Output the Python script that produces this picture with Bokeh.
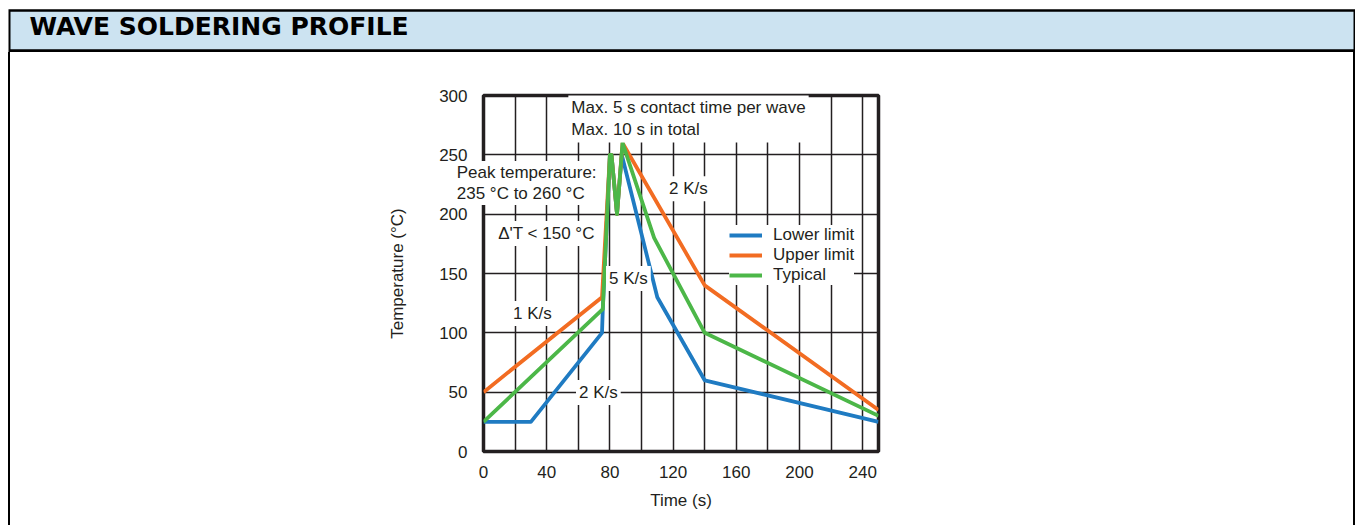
from bokeh.plotting import figure
from bokeh.models import Label, FixedTicker, Range1d, Spacer
from bokeh.layouts import column, row
from bokeh.embed import file_html
from bokeh.resources import INLINE
from bokeh.core.properties import value

# ---------------- data ----------------
series_names = ["Lower limit", "Upper limit", "Typical"]

time_lower = [0, 30, 75, 75.5, 80, 81, 84.5, 87.5, 110, 140, 250]
temp_lower = [25, 25, 100, 120, 250, 250, 200, 250, 130, 60, 25]

time_upper = [0, 75, 80, 81, 84.5, 88, 140, 250]
temp_upper = [50, 130, 250, 250, 200, 260, 140, 35]

time_typical = [0, 75.5, 80, 81, 84.5, 88, 108, 140, 250]
temp_typical = [25, 120, 250, 250, 200, 260, 180, 100, 30]

x_tick_values = [0, 40, 80, 120, 160, 200, 240]
x_grid_values = [20, 40, 60, 80, 100, 120, 140, 160, 180, 200, 220, 240]
y_tick_values = [0, 50, 100, 150, 200, 250, 300]
y_grid_values = [50, 100, 150, 200, 250]

title_text = "WAVE SOLDERING PROFILE"
x_label = "Time (s)"
y_label = "Temperature (°C)"

# ---------------- style ----------------
FONT = "Liberation Sans"
INK = "#231f20"
COLORS = ["#1f7bc2", "#f26c22", "#4cb748"]
HEADER_BG = "#cce3f1"
PAGE_W, PAGE_H = 1355, 525
HEAD_H = 52
MARGIN_W, EDGE_W = 8, 2
BODY_H = PAGE_H - HEAD_H
CHART_W = PAGE_W - MARGIN_W - 2 * EDGE_W

# ---------- header band ----------
head = figure(width=PAGE_W, height=HEAD_H, x_range=Range1d(0, PAGE_W),
              y_range=Range1d(HEAD_H, 0), output_backend="svg",
              toolbar_location=None, x_axis_location=None, y_axis_location=None,
              min_border=0, min_border_left=0, min_border_right=0,
              min_border_top=0, min_border_bottom=0)
head.grid.visible = False
head.outline_line_color = None
head.background_fill_color = "white"
head.border_fill_color = "white"
head.quad(left=[MARGIN_W], right=[PAGE_W], top=[8.7], bottom=[51.7],
          fill_color="black", line_color=None)
head.quad(left=[MARGIN_W + EDGE_W], right=[PAGE_W - EDGE_W], top=[11.2], bottom=[48.8],
          fill_color=HEADER_BG, line_color=None)
head.text(x=[29], y=[25.5], text=[title_text], text_align="left",
          text_baseline="middle", text_font=value("DejaVu Sans"),
          text_font_style="bold", text_font_size="25px", text_color="black")

# ---------- chart ----------
p = figure(width=CHART_W, height=BODY_H, x_range=Range1d(0, 250), y_range=Range1d(0, 300),
           output_backend="svg", toolbar_location=None,
           min_border_left=473, min_border_right=475,
           min_border_top=43, min_border_bottom=74,
           x_axis_label=x_label, y_axis_label=y_label)

p.background_fill_color = "white"
p.border_fill_color = "white"
p.outline_line_color = INK
p.outline_line_width = 3.5
p.outline_line_alpha = 1.0

p.xgrid.ticker = FixedTicker(ticks=x_grid_values)
p.ygrid.ticker = FixedTicker(ticks=y_grid_values)
p.grid.grid_line_color = INK
p.grid.grid_line_width = 1.5
p.grid.grid_line_alpha = 1.0

p.xaxis.ticker = FixedTicker(ticks=x_tick_values)
p.yaxis.ticker = FixedTicker(ticks=y_tick_values)
for ax in (p.xaxis, p.yaxis):
    ax.axis_line_color = None
    ax.major_tick_line_color = None
    ax.minor_tick_line_color = None
    ax.major_tick_out = 0
    ax.major_tick_in = 0
    ax.major_label_text_font = FONT
    ax.major_label_text_font_size = "17px"
    ax.major_label_text_color = INK
    ax.axis_label_text_font = FONT
    ax.axis_label_text_font_size = "17px"
    ax.axis_label_text_font_style = "normal"
    ax.axis_label_text_color = INK
p.yaxis.major_label_standoff = 16
p.xaxis.major_label_standoff = 14
p.yaxis.axis_label_standoff = 29
p.xaxis.axis_label_standoff = 10

series = [(time_lower, temp_lower), (time_upper, temp_upper), (time_typical, temp_typical)]
for (xs, ys), name, col in zip(series, series_names, COLORS):
    p.line(xs, ys, line_color=col, line_width=3.8, line_join="round",
           legend_label=name)

lg = p.legend[0]
lg.location = (246, 166)
lg.margin = 0
lg.padding = 8
lg.spacing = 0
lg.glyph_width = 33
lg.glyph_height = 20
lg.label_height = 20
lg.label_standoff = 11
lg.border_line_color = None
lg.background_fill_color = "white"
lg.background_fill_alpha = 1.0
lg.label_text_font = FONT
lg.label_text_font_size = "17px"
lg.label_text_color = INK


def note(x, y, text, align="center", place="center", line_height=1.2, pad=3):
    lab = Label(x=x, y=y, text=text, text_align=align, text_baseline="middle",
                text_font=FONT, text_font_size="17px", text_color=INK,
                text_line_height=line_height,
                background_fill_color="white", background_fill_alpha=1.0,
                padding=pad)
    p.add_layout(lab, place)


note(53.7, 280.6, "Max. 5 s contact time per wave\nMax. 10 s in total", "left")
note(-18.2, 226.3, "Peak temperature:\n235 °C to 260 °C", "left", "left", 1.1, 2)
note(7.4, 183.7, "Δ'T < 150 °C", "left")
note(129.7, 221.4, "2 K/s")
note(91.7, 145.8, "5 K/s")
note(30.9, 116.3, "1 K/s")
note(72.7, 49.7, "2 K/s")

# ---------- page frame edges ----------
gap_left = Spacer(width=MARGIN_W, height=BODY_H)
edge_left = Spacer(width=EDGE_W, height=BODY_H, styles={"background-color": "black"})
edge_right = Spacer(width=EDGE_W, height=BODY_H, styles={"background-color": "black"})

layout = column(head, row(gap_left, edge_left, p, edge_right, spacing=0), spacing=0)

open("out.html", "w").write(file_html(layout, INLINE))
